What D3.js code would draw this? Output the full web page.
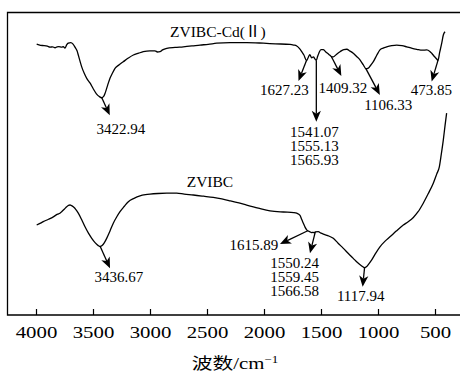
<!DOCTYPE html>
<html>
<head>
<meta charset="utf-8">
<script src="https://cdn.jsdelivr.net/npm/d3@7"></script>
<style>
  html, body { margin: 0; padding: 0; background: #fff; }
  svg { display: block; }
  text { font-family: "Liberation Serif", "Times New Roman", "Noto Sans CJK SC", serif; fill: #000; }
</style>
</head>
<body>
<svg id="chart" width="460" height="372"></svg>
<script>
// Wavenumber ticks (cm^-1)
const xTicks = [4000, 3500, 3000, 2500, 2000, 1500, 1000, 500];

// Series names
const seriesNames = ["ZVIBC-Cd(Ⅱ)", "ZVIBC"];

// FTIR spectrum after Cd(II) adsorption: [wavenumber, transmittance (a.u.)]
const cdSpectrum = [
  [3994, 89.4], [3960, 89.0], [3930, 88.9], [3900, 88.7], [3877, 88.4], [3855, 88.5], [3833, 88.2],
  [3815, 88.5], [3800, 88.6], [3775, 88.4], [3760, 88.6], [3746, 88.1], [3730, 89.2], [3717, 89.7],
  [3695, 89.9], [3675, 89.4], [3658, 88.4], [3640, 87.2], [3629, 85.8], [3614, 83.8], [3599, 81.9],
  [3575, 79.6], [3555, 78.1], [3525, 76.5], [3497, 74.6], [3470, 73.0], [3445, 72.1], [3423, 71.7],
  [3405, 72.2], [3392, 73.4], [3380, 74.8], [3365, 76.6], [3351, 78.1], [3330, 79.8], [3307, 81.4],
  [3270, 82.6], [3234, 83.6], [3190, 84.8], [3146, 85.8], [3100, 86.4], [3059, 86.9], [3000, 87.2],
  [2956, 87.2], [2935, 86.8], [2912, 86.9], [2890, 87.5], [2853, 88.0], [2780, 88.3], [2708, 88.5],
  [2630, 88.8], [2561, 89.1], [2490, 89.3], [2415, 89.7], [2298, 89.9], [2150, 89.9], [2006, 89.7],
  [1900, 89.5], [1772, 89.3], [1740, 89.1], [1713, 88.8], [1690, 88.0], [1669, 86.9], [1650, 85.8],
  [1627, 84.0], [1612, 85.0], [1598, 85.9], [1582, 84.9], [1566, 85.2], [1555, 84.6], [1541, 84.1],
  [1530, 85.3], [1518, 86.5], [1500, 87.6], [1480, 87.6], [1462, 87.0], [1440, 86.3], [1421, 85.7],
  [1409, 85.3], [1392, 85.2], [1365, 86.0], [1333, 86.9], [1300, 87.6], [1274, 87.7], [1245, 87.1],
  [1217, 86.4], [1190, 85.4], [1158, 84.2], [1130, 82.6], [1106, 81.3], [1085, 81.5], [1063, 82.5],
  [1041, 83.6], [1010, 85.8], [983, 87.5], [955, 88.1], [924, 88.5], [880, 88.9], [836, 89.1],
  [790, 88.9], [748, 88.5], [700, 88.0], [660, 87.7], [610, 87.4], [573, 87.5], [545, 87.0],
  [529, 86.4], [505, 85.3], [485, 84.5], [474, 84.0], [460, 86.5], [441, 89.7], [427, 92.4], [412, 93.5]
];

// FTIR spectrum of the pristine material: [wavenumber, transmittance (a.u.)]
const bcSpectrum = [
  [3994, 29.7], [3960, 30.3], [3936, 30.8], [3890, 31.6], [3848, 32.4], [3810, 33.3], [3790, 33.6],
  [3775, 34.1], [3750, 35.0], [3731, 35.7], [3715, 36.2], [3702, 36.3], [3688, 36.1], [3673, 35.7],
  [3650, 34.8], [3629, 33.6], [3600, 31.5], [3570, 29.1], [3540, 27.0], [3511, 25.3], [3480, 23.8],
  [3454, 22.9], [3437, 22.6], [3420, 22.9], [3400, 23.9], [3380, 25.3], [3350, 27.8], [3322, 30.3],
  [3290, 32.5], [3263, 34.1], [3225, 35.9], [3190, 37.4], [3140, 38.5], [3088, 39.3], [3040, 39.7],
  [3000, 39.9], [2930, 40.1], [2853, 40.2], [2766, 40.2], [2700, 39.9], [2620, 39.6], [2530, 39.2],
  [2445, 38.8], [2370, 38.3], [2298, 37.7], [2220, 37.0], [2152, 36.3], [2050, 35.3], [1947, 34.4],
  [1830, 34.0], [1740, 33.8], [1713, 33.6], [1684, 32.9], [1670, 31.6], [1655, 30.3], [1640, 29.0],
  [1625, 28.1], [1616, 27.8], [1600, 27.5], [1582, 27.2], [1566, 27.3], [1559, 27.1], [1550, 27.4],
  [1524, 27.5], [1500, 27.0], [1480, 26.7], [1440, 26.2], [1392, 25.3], [1350, 23.7], [1304, 22.0],
  [1260, 20.3], [1217, 18.7], [1180, 17.3], [1143, 16.2], [1118, 15.6], [1099, 16.0], [1080, 16.9],
  [1055, 18.2], [1020, 20.4], [983, 22.5], [940, 24.3], [895, 25.8], [840, 27.7], [778, 29.7],
  [735, 30.8], [690, 32.2], [650, 34.0], [603, 36.9], [560, 40.0], [515, 43.5], [485, 46.5],
  [462, 48.9], [445, 53.0], [427, 57.8], [412, 62.5], [398, 66.6]
];

// Peak assignments (wavenumbers quoted on the chart)
const cdPeaks = [
  { wn: 3422.94, labels: ["3422.94"] },
  { wn: 1627.23, labels: ["1627.23"] },
  { wn: 1541.07, labels: ["1541.07", "1555.13", "1565.93"] },
  { wn: 1409.32, labels: ["1409.32"] },
  { wn: 1106.33, labels: ["1106.33"] },
  { wn: 473.85,  labels: ["473.85"] }
];
const bcPeaks = [
  { wn: 3436.67, labels: ["3436.67"] },
  { wn: 1615.89, labels: ["1615.89"] },
  { wn: 1550.24, labels: ["1550.24", "1559.45", "1566.58"] },
  { wn: 1117.94, labels: ["1117.94"] }
];

// Layout of each callout: arrow tip and label offsets (px) from the peak on the curve
const cdCallouts = [
  { tip: [8, 17.5],    text: [19, 35.8],    anchor: "middle" },
  { tip: [-8, 20.5],   text: [-22, 34.5],   anchor: "middle" },
  { tip: [0, 61.5],    text: [-2, 76.8],    anchor: "middle" },
  { tip: [10, 19.5],   text: [11.5, 36.2],  anchor: "middle" },
  { tip: [14, 26.3],   text: [22.4, 41.3],  anchor: "middle" },
  { tip: [-6.3, 21.2], text: [-6.7, 34.5],  anchor: "middle" }
];
const bcCallouts = [
  { tip: [9.8, 21.8],   text: [18.6, 35.2],  anchor: "middle" },
  { tip: [-27.8, 13.2], text: [-29.5, 19.2], anchor: "end" },
  { tip: [-5.3, 21.3],  text: [-20.6, 36.3], anchor: "middle" },
  { tip: [-1.9, 19],    text: [-3.8, 33.3],  anchor: "middle" }
];

const svg = d3.select("#chart");
const frame = { left: 7.5, top: 12.5, bottom: 315, right: 462 };

const x = d3.scaleLinear().domain([4000, 500]).range([36, 435]);
const y = d3.scaleLinear().domain([0, 100]).range([315, 12]);

// Plot frame (left, top, bottom)
svg.append("path")
  .attr("d", `M${frame.right},${frame.top}H${frame.left}V${frame.bottom}H${frame.right}`)
  .attr("fill", "none").attr("stroke", "#000").attr("stroke-width", 1.3);

// Bottom axis with inward ticks
const axis = svg.append("g")
  .attr("transform", `translate(0,${frame.bottom})`)
  .call(d3.axisBottom(x).tickValues(xTicks).tickSize(-6).tickPadding(11.5).tickFormat(d3.format("d")));
axis.select(".domain").remove();
axis.selectAll(".tick line").attr("stroke", "#000").attr("stroke-width", 1.2);
axis.selectAll(".tick text")
  .attr("font-family", "Liberation Serif, Times New Roman, serif")
  .attr("font-size", 16)
  .attr("fill", "#000")
  .attr("transform", "scale(1.3,1)");

// Axis title
const title = svg.append("text")
  .attr("transform", "translate(235,369) scale(1.3,1)")
  .attr("text-anchor", "middle")
  .attr("font-size", 16);
title.append("tspan").attr("font-family", "Noto Sans CJK SC, sans-serif").text("波数");
title.append("tspan").text("/cm");
title.append("tspan").attr("font-size", 10).attr("dy", -6).text("−1");

// Spectra
const line = d3.line()
  .x(d => x(d[0]))
  .y(d => y(d[1]))
  .curve(d3.curveMonotoneX);

[cdSpectrum, bcSpectrum].forEach(s => {
  svg.append("path")
    .datum(s)
    .attr("d", line)
    .attr("fill", "none")
    .attr("stroke", "#000")
    .attr("stroke-width", 1.3)
    .attr("stroke-linejoin", "round");
});

// Series names
svg.append("text").attr("x", 170).attr("y", 37).attr("font-size", 15.5).text(seriesNames[0]);
svg.append("text").attr("x", 186.7).attr("y", 186.7).attr("font-size", 15.5).text(seriesNames[1]);

// Transmittance on a spectrum at a given wavenumber (linear between samples)
function valueAt(spec, wn) {
  for (let i = 0; i < spec.length - 1; i++) {
    const [w0, t0] = spec[i], [w1, t1] = spec[i + 1];
    if (wn <= w0 && wn >= w1) return t0 + (t1 - t0) * (w0 - wn) / (w0 - w1);
  }
  return spec[spec.length - 1][1];
}

// Arrow with a filled, notched head
function drawArrow(g, x0, y0, x1, y1) {
  const dx = x1 - x0, dy = y1 - y0, L = Math.hypot(dx, dy);
  const ux = dx / L, uy = dy / L, px = -uy, py = ux;
  const hl = 11, hw = 4.6, notch = 3;
  const bx = x1 - ux * hl, by = y1 - uy * hl;
  const nx = x1 - ux * (hl - notch), ny = y1 - uy * (hl - notch);
  g.append("line")
    .attr("x1", x0).attr("y1", y0).attr("x2", nx).attr("y2", ny)
    .attr("stroke", "#000").attr("stroke-width", 1.3);
  g.append("path")
    .attr("d", `M${x1},${y1}L${bx + px * hw},${by + py * hw}L${nx},${ny}L${bx - px * hw},${by - py * hw}Z`)
    .attr("fill", "#000");
}

function drawPeaks(spec, peaks, callouts) {
  const g = svg.append("g");
  peaks.forEach((p, i) => {
    const c = callouts[i];
    const x0 = x(p.wn), y0 = y(valueAt(spec, p.wn));
    drawArrow(g, x0, y0, x0 + c.tip[0], y0 + c.tip[1]);
    const t = g.append("text")
      .attr("font-size", 15)
      .attr("text-anchor", c.anchor);
    p.labels.forEach((lab, j) => {
      t.append("tspan")
        .attr("x", x0 + c.text[0])
        .attr("y", y0 + c.text[1] + j * 14)
        .text(lab);
    });
  });
}

drawPeaks(cdSpectrum, cdPeaks, cdCallouts);
drawPeaks(bcSpectrum, bcPeaks, bcCallouts);
</script>
</body>
</html>
